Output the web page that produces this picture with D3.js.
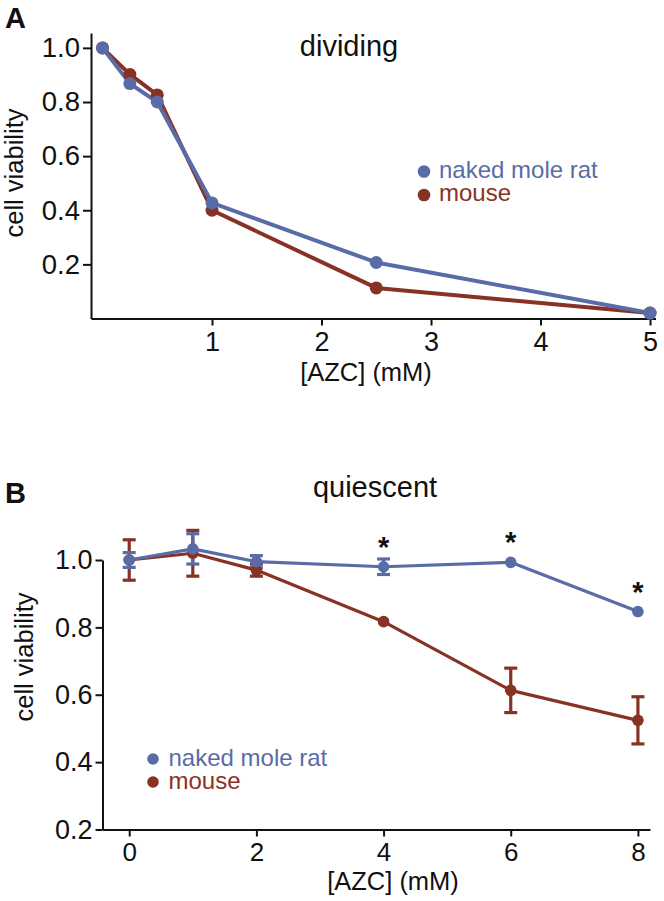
<!DOCTYPE html>
<html>
<head>
<meta charset="utf-8">
<script src="https://cdn.jsdelivr.net/npm/d3@7"></script>
<style>
  html, body { margin: 0; padding: 0; background: #fff; }
  svg { display: block; }
  text { font-family: "Liberation Sans", Arial, Helvetica, sans-serif; fill: #111; }
</style>
</head>
<body>
<svg id="chart" width="664" height="901"></svg>
<script>
// ---------------- data ----------------
const seriesNames = ["naked mole rat", "mouse"];
const seriesColors = ["#5a6ca8", "#873224"];

// Panel A: dividing
const azcA = [0, 0.25, 0.5, 1, 2.5, 5];
const nmrA = [1.0, 0.868, 0.80, 0.427, 0.207, 0.02];
const mouseA = [1.0, 0.902, 0.826, 0.40, 0.113, 0.02];
const xTicksA = [1, 2, 3, 4, 5];
const yTicksA = [0.2, 0.4, 0.6, 0.8, 1.0];

// Panel B: quiescent
const azcB = [0, 1, 2, 4, 6, 8];
const nmrB = [1.0, 1.033, 0.995, 0.98, 0.993, 0.847];
const nmrErrB = [0.022, 0.045, 0.018, 0.023, 0, 0];
const mouseB = [1.0, 1.02, 0.97, 0.817, 0.613, 0.524];
const mouseErrB = [0.06, 0.068, 0.018, 0, 0.066, 0.07];
const signifB = [4, 6, 8];
const xTicksB = [0, 2, 4, 6, 8];
const yTicksB = [0.2, 0.4, 0.6, 0.8, 1.0];

const svg = d3.select("#chart");
const fmt1 = d3.format(".1f");

function styleAxis(g, fs) {
  g.selectAll("path.domain").attr("stroke", "#111").attr("stroke-width", 2);
  g.selectAll(".tick line").attr("stroke", "#111").attr("stroke-width", 2);
  g.selectAll(".tick text").attr("fill", "#111").style("font-size", fs + "px")
    .style("font-family", '"Liberation Sans", Arial, Helvetica, sans-serif');
}

// ---------------- Panel A ----------------
{
  const x = d3.scaleLinear().domain([-0.105, 5.05]).range([91, 655.5]);
  const y = d3.scaleLinear().domain([0, 1.055]).range([318.5, 33]);
  const g = svg.append("g");

  const gx = g.append("g").attr("transform", `translate(0,${y(0)})`)
    .call(d3.axisBottom(x).tickValues(xTicksA).tickSize(7).tickSizeOuter(0).tickPadding(6).tickFormat(d3.format("d")));
  styleAxis(gx, 27);
  const gy = g.append("g").attr("transform", `translate(${x.range()[0]},0)`)
    .call(d3.axisLeft(y).tickValues(yTicksA).tickSize(8).tickSizeOuter(0).tickPadding(3).tickFormat(fmt1));
  styleAxis(gy, 27.5);

  const line = d3.line().x((d, i) => x(azcA[i])).y(d => y(d));
  const sets = [mouseA, nmrA];
  const cols = [seriesColors[1], seriesColors[0]];
  sets.forEach((s, k) => {
    g.append("path").datum(s).attr("d", line).attr("fill", "none")
      .attr("stroke", cols[k]).attr("stroke-width", 4).attr("stroke-linejoin", "round");
  });
  sets.forEach((s, k) => {
    g.selectAll(null).data(s).join("circle")
      .attr("cx", (d, i) => x(azcA[i])).attr("cy", d => y(d)).attr("r", 6.5)
      .attr("fill", cols[k]);
  });

  g.append("text").attr("x", 5).attr("y", 28).style("font-size", "29px").style("font-weight", "bold").text("A");
  g.append("text").attr("x", 349).attr("y", 56).attr("text-anchor", "middle").style("font-size", "29px").text("dividing");
  g.append("text").attr("transform", `translate(23,${173}) rotate(-90)`).attr("text-anchor", "middle")
    .style("font-size", "25.5px").text("cell viability");
  g.append("text").attr("x", 366).attr("y", 381).attr("text-anchor", "middle").style("font-size", "25.5px").text("[AZC] (mM)");

  // legend
  seriesNames.forEach((n, i) => {
    g.append("circle").attr("cx", 424).attr("cy", 171.5 + i * 23.5).attr("r", 6.3).attr("fill", seriesColors[i]);
    g.append("text").attr("x", 439).attr("y", 177.5 + i * 23.5).style("font-size", "24px")
      .style("fill", seriesColors[i]).text(n);
  });
}

// ---------------- Panel B ----------------
{
  const x = d3.scaleLinear().domain([-0.42, 8.19]).range([102.5, 650]);
  const y = d3.scaleLinear().domain([0.2, 1.0]).range([829.5, 560]);
  const g = svg.append("g");

  const gx = g.append("g").attr("transform", `translate(0,${y(0.2)})`)
    .call(d3.axisBottom(x).tickValues(xTicksB).tickSize(7).tickSizeOuter(0).tickPadding(6).tickFormat(d3.format("d")));
  styleAxis(gx, 26);
  const gy = g.append("g").attr("transform", `translate(${x.range()[0]},0)`)
    .call(d3.axisLeft(y).tickValues(yTicksB).tickSize(7).tickSizeOuter(0).tickPadding(3).tickFormat(fmt1));
  styleAxis(gy, 27);

  const sets = [mouseB, nmrB];
  const errs = [mouseErrB, nmrErrB];
  const cols = [seriesColors[1], seriesColors[0]];

  // error bars
  sets.forEach((s, k) => {
    const eg = g.append("g").attr("stroke", cols[k]).attr("stroke-width", 3.2);
    s.forEach((v, i) => {
      const e = errs[k][i];
      if (!e) return;
      const cx = x(azcB[i]);
      eg.append("line").attr("x1", cx).attr("x2", cx).attr("y1", y(v - e)).attr("y2", y(v + e));
      eg.append("line").attr("x1", cx - 6.5).attr("x2", cx + 6.5).attr("y1", y(v - e)).attr("y2", y(v - e));
      eg.append("line").attr("x1", cx - 6.5).attr("x2", cx + 6.5).attr("y1", y(v + e)).attr("y2", y(v + e));
    });
  });

  const line = d3.line().x((d, i) => x(azcB[i])).y(d => y(d));
  sets.forEach((s, k) => {
    g.append("path").datum(s).attr("d", line).attr("fill", "none")
      .attr("stroke", cols[k]).attr("stroke-width", 3.2).attr("stroke-linejoin", "round");
  });
  sets.forEach((s, k) => {
    g.selectAll(null).data(s).join("circle")
      .attr("cx", (d, i) => x(azcB[i])).attr("cy", d => y(d)).attr("r", 5.8)
      .attr("fill", cols[k]);
  });

  // significance
  signifB.forEach(xv => {
    const i = azcB.indexOf(xv);
    g.append("text").attr("x", x(xv)).attr("y", y(nmrB[i]) - 10).attr("text-anchor", "middle")
      .style("font-size", "29px").style("font-weight", "bold").text("*");
  });

  g.append("text").attr("x", 5).attr("y", 503).style("font-size", "29px").style("font-weight", "bold").text("B");
  g.append("text").attr("x", 375).attr("y", 497).attr("text-anchor", "middle").style("font-size", "29px").text("quiescent");
  g.append("text").attr("transform", `translate(33,${657}) rotate(-90)`).attr("text-anchor", "middle")
    .style("font-size", "25.5px").text("cell viability");
  g.append("text").attr("x", 393).attr("y", 890).attr("text-anchor", "middle").style("font-size", "25.5px").text("[AZC] (mM)");

  seriesNames.forEach((n, i) => {
    g.append("circle").attr("cx", 153).attr("cy", 759 + i * 23).attr("r", 5.8).attr("fill", seriesColors[i]);
    g.append("text").attr("x", 168.5).attr("y", 766 + i * 23).style("font-size", "24px")
      .style("fill", seriesColors[i]).text(n);
  });
}
</script>
</body>
</html>
